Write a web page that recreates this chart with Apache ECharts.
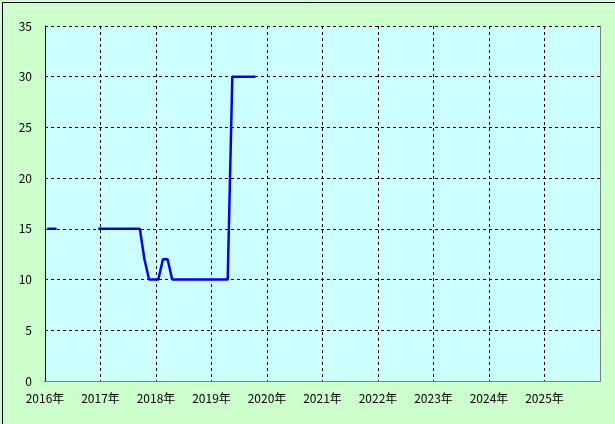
<!DOCTYPE html>
<html>
<head>
<meta charset="utf-8">
<script src="https://cdn.jsdelivr.net/npm/echarts@6/dist/echarts.min.js"></script>
<style>
html,body{margin:0;padding:0;background:#ccffcc;}
#c{width:615px;height:424px;box-sizing:border-box;}
</style>
</head>
<body>
<div id="c"></div>
<script>
// Monthly observations (YYYY-MM), null = no data
var months = [
  '2016-01','2016-02','2016-03','2016-04','2016-05','2016-06','2016-07','2016-08','2016-09','2016-10','2016-11','2016-12',
  '2017-01','2017-02','2017-03','2017-04','2017-05','2017-06','2017-07','2017-08','2017-09','2017-10','2017-11','2017-12',
  '2018-01','2018-02','2018-03','2018-04','2018-05','2018-06','2018-07','2018-08','2018-09','2018-10','2018-11','2018-12',
  '2019-01','2019-02','2019-03','2019-04','2019-05','2019-06','2019-07','2019-08','2019-09','2019-10'
];
var values = [
  15,15,15,null,null,null,null,null,null,null,null,15,
  15,15,15,15,15,15,15,15,15,12,10,10,
  10,12,12,10,10,10,10,10,10,10,10,10,
  10,10,10,10,30,30,30,30,30,30
];
var yearTicks = [2016,2017,2018,2019,2020,2021,2022,2023,2024,2025,2026];
var yTicks = [0,5,10,15,20,25,30,35];

var seriesData = months.map(function(m, i){
  var p = m.split('-');
  var x = Number(p[0]) + (Number(p[1]) - 0.5) / 12;
  return [x, values[i]];
});

var font = "'Noto Sans CJK JP', 'DejaVu Sans', sans-serif";
var chart = echarts.init(document.getElementById('c'), null, {renderer:'canvas'});
chart.setOption({
  backgroundColor: '#ccffcc',
  animation: false,
  grid: {left:45, top:26, right:15, bottom:43, show:true, backgroundColor:'#ccffff', borderWidth:0},
  xAxis: [{
    type:'value', min:yearTicks[0], max:yearTicks[yearTicks.length-1], interval:1,
    axisLine:{show:true, onZero:false, lineStyle:{color:'#000', width:1}},
    axisTick:{show:false},
    axisLabel:{color:'#000', fontSize:12, fontFamily:font, margin:11, showMaxLabel:false,
      formatter:function(v){return v + '年';}},
    splitLine:{show:true, lineStyle:{color:'#000', type:[3,3], width:1}},
    z:2
  },{
    type:'value', position:'top', min:yearTicks[0], max:yearTicks[yearTicks.length-1],
    axisLine:{show:true, lineStyle:{color:'#808080', width:1}},
    axisTick:{show:false}, axisLabel:{show:false}, splitLine:{show:false}, z:3
  }],
  yAxis: [{
    type:'value', min:yTicks[0], max:yTicks[yTicks.length-1], interval:5,
    axisLine:{show:true, onZero:false, lineStyle:{color:'#000', width:1}},
    axisTick:{show:false},
    axisLabel:{color:'#000', fontSize:12, fontFamily:font, margin:13},
    splitLine:{show:true, lineStyle:{color:'#000', type:[3,3], width:1}},
    z:2
  },{
    type:'value', position:'right', min:yTicks[0], max:yTicks[yTicks.length-1],
    axisLine:{show:true, lineStyle:{color:'#808080', width:1}},
    axisTick:{show:false}, axisLabel:{show:false}, splitLine:{show:false}, z:3
  }],
  graphic: [{
    type:'rect', left:0, top:0, z:100,
    shape:{x:0.5, y:0.5, width:614, height:423},
    style:{fill:null, stroke:'#000', lineWidth:1}
  }],
  series: [{
    type:'line', xAxisIndex:0, yAxisIndex:0,
    data: seriesData, showSymbol:false, connectNulls:false,
    lineStyle:{color:'#0000ff', width:2.5}, z:5
  }]
});
</script>
</body>
</html>
